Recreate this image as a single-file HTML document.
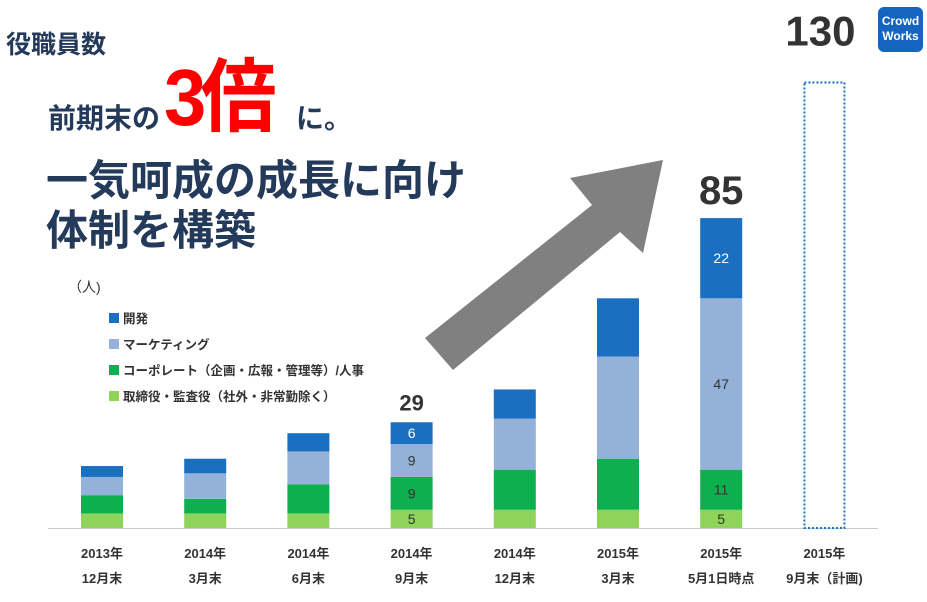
<!DOCTYPE html>
<html><head><meta charset="utf-8"><style>
body{margin:0;width:927px;height:602px;background:#fff;overflow:hidden;font-family:"Liberation Sans","Noto Sans CJK JP",sans-serif;position:relative}
.t{position:absolute;color:#243a5a;font-weight:bold;white-space:nowrap;line-height:1}
</style></head><body>
<div class="t" style="left:6px;top:33px;font-size:25px">役職員数</div>
<div class="t" style="left:48px;top:105px;font-size:28px">前期末の</div>
<div class="t" style="left:164px;top:58px;font-size:80px;color:#f00;letter-spacing:-6px;transform:scaleX(0.95);transform-origin:left">3倍</div>
<div class="t" style="left:296px;top:105px;font-size:28px">に。</div>
<div class="t" style="left:46px;top:160px;font-size:42px">一気呵成の成長に向け</div>
<div class="t" style="left:46px;top:210px;font-size:42px">体制を構築</div>
<div style="position:absolute;left:878px;top:7px;width:45px;height:45px;background:#1565c0;border-radius:6px;color:#fff;font-size:12px;font-weight:bold;text-align:center;line-height:15px;padding-top:7px;box-sizing:border-box">Crowd<br>Works</div>
<svg id="c" width="927" height="602" style="position:absolute;left:0;top:0"></svg>
<script>
const categories=[["2013年","12月末"],["2014年","3月末"],["2014年","6月末"],["2014年","9月末"],["2014年","12月末"],["2015年","3月末"],["2015年","5月1日時点"],["2015年","9月末（計画)"]];
const officers=[4,4,4,5,5,5,5];
const corporate=[5,4,8,9,11,14,11];
const marketing=[5,7,9,9,14,28,47];
const dev=[3,4,5,6,8,16,22];
const totalsShown=[null,null,null,29,null,null,85];
const planTotal=130;
const seriesNames=["開発","マーケティング","コーポレート（企画・広報・管理等）/人事","取締役・監査役（社外・非常勤除く）"];
const colors=["#1a6fc0","#93b1d9","#0daf4f","#8ed45a"];
const NS="http://www.w3.org/2000/svg",svg=document.getElementById('c');
function el(t,a,p){const e=document.createElementNS(NS,t);for(const k in a)e.setAttribute(k,a[k]);(p||svg).appendChild(e);return e;}
const base=528,k=3.646;
const y=v=>base-v*k;
const x=i=>102+i*103.2;
const bw=42;
const ax=el('line',{x1:48,x2:878,y1:base+.5,y2:base+.5,stroke:'#ccc'});

const ar=el('polygon',{points:"425,338 592,205 570,178 663,160 643,253 620,232 453,370",fill:'#808080'});

const stacks=[officers,corporate,marketing,dev],cidx=[3,2,1,0];
for(let i=0;i<officers.length;i++){let acc=0;
 stacks.forEach((s,j)=>{const v=s[i];
  const r=el('rect',{x:x(i)-bw/2,y:y(acc+v),width:bw,height:v*k,fill:colors[cidx[j]]});
  
  if(i===3||i===6){const tx=el('text',{x:x(i),y:y(acc+v/2)+5,'text-anchor':'middle','font-size':14,fill:j==3?'#fff':'#333'});
   tx.textContent=v;}
  acc+=v;});
 if(totalsShown[i]){const t=el('text',{x:x(i),y:y(acc)-(i==6?14:12),'text-anchor':'middle','font-size':i==6?40:22,'font-weight':'bold',fill:'#333'});t.textContent=totalsShown[i];}
}
const pt=y(planTotal*0.94);
const pb=el('rect',{x:x(7)-bw/2+1,y:pt,width:bw-2,height:base-pt,fill:'none',stroke:'#1a6fc0','stroke-width':2,'stroke-dasharray':'2,2'});

const pl=el('text',{x:x(7)-4,y:pt-37,'text-anchor':'middle','font-size':42,'font-weight':'bold',fill:'#333'});pl.textContent=planTotal;

categories.forEach((c,i)=>{c.forEach((s,j)=>{const t=el('text',{x:x(i),y:558+j*25,'text-anchor':'middle','font-size':13,'font-weight':'bold',fill:'#333'});t.textContent=s;});});
const u=el('text',{x:68,y:292,'font-size':14,fill:'#333'});u.textContent="（人)";
seriesNames.forEach((n,i)=>{const g=el('g',{});
 el('rect',{x:109,y:313+i*26,width:10,height:10,fill:colors[i]},g);
 const t=el('text',{x:123,y:323+i*26,'font-size':12.5,'font-weight':'bold',fill:'#333'},g);t.textContent=n;});
</script>
</body></html>
